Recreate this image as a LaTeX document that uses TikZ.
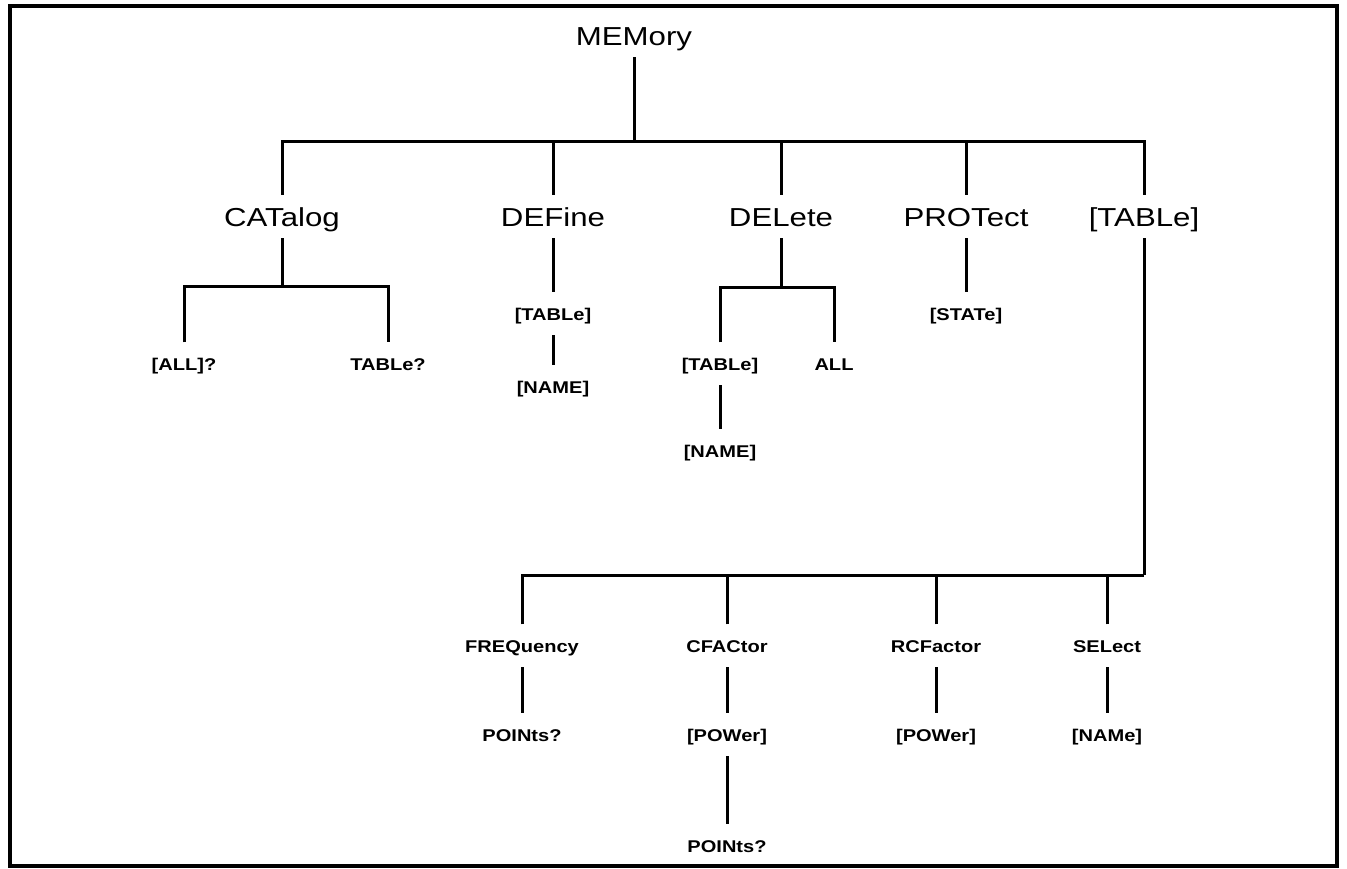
\documentclass[tikz,border=0pt]{standalone}
\usepackage{fontspec}
\newfontfamily\bigf{Liberation Sans}[FakeStretch=1.2]
\newfontfamily\smf{Liberation Sans}[FakeStretch=1.18]
\begin{document}
\begin{tikzpicture}[x=1pt,y=-1pt,
  big/.style={font=\bigf\fontsize{26}{30}\selectfont, text height=19pt, text depth=0pt, inner xsep=2pt, inner ysep=12pt, anchor=base},
  sm/.style={font=\smf\bfseries\fontsize{17}{20}\selectfont, text height=12.5pt, text depth=0pt, inner xsep=2pt, inner ysep=15pt, anchor=base},
  ln/.style={line width=3pt},
  frame/.style={line width=4pt}]
\useasboundingbox (0,0) rectangle (1347,868);
\draw[frame] (10,6) rectangle (1337,866);
% top level
\node[big] (mem) at (634,45) {MEMory};
\node[big] (cat) at (282,226) {CATalog};
\node[big] (def) at (553,226) {DEFine};
\node[big] (del) at (781,226) {DELete};
\node[big] (prot) at (966,226) {PROTect};
\node[big] (tab) at (1144,226) {[TABLe]};
\coordinate (j0) at (634,141);
\draw[ln] (mem.south) -- (j0);
\draw[ln] (cat.north) |- (j0) -| (tab.north);
\draw[ln] (def.north) -- (def.north |- j0);
\draw[ln] (del.north) -- (del.north |- j0);
\draw[ln] (prot.north) -- (prot.north |- j0);
% CATalog
\node[sm] (alla) at (184,370) {[ALL]?};
\node[sm] (tabq) at (388,370) {TABLe?};
\coordinate (j1) at (282,286);
\draw[ln] (cat.south) -- (j1);
\draw[ln] (alla.north) |- (j1) -| (tabq.north);
% DEFine
\node[sm] (dtab) at (553,320) {[TABLe]};
\node[sm] (dname) at (553,393) {[NAME]};
\draw[ln] (def.south) -- (dtab.north);
\draw[ln] (dtab.south) -- (dname.north);
% DELete
\node[sm] (ltab) at (720,370) {[TABLe]};
\node[sm] (lall) at (834,370) {ALL};
\node[sm] (lname) at (720,457) {[NAME]};
\coordinate (j2) at (781,287);
\draw[ln] (del.south) -- (j2);
\draw[ln] (ltab.north) |- (j2) -| (lall.north);
\draw[ln] (ltab.south) -- (lname.north);
% PROTect
\node[sm] (pst) at (966,320) {[STATe]};
\draw[ln] (prot.south) -- (pst.north);
% TABLe subtree
\node[sm] (fr) at (522,652) {FREQuency};
\node[sm] (cf) at (727,652) {CFACtor};
\node[sm] (rc) at (936,652) {RCFactor};
\node[sm] (se) at (1107,652) {SELect};
\coordinate (j3) at (1144,575);
\draw[ln] (tab.south) -- (j3);
\draw[ln] (fr.north) |- (j3);
\draw[ln] (cf.north) -- (cf.north |- j3);
\draw[ln] (rc.north) -- (rc.north |- j3);
\draw[ln] (se.north) -- (se.north |- j3);
\node[sm] (frp) at (522,741) {POINts?};
\node[sm] (cfp) at (727,741) {[POWer]};
\node[sm] (rcp) at (936,741) {[POWer]};
\node[sm] (sen) at (1107,741) {[NAMe]};
\node[sm] (cfq) at (727,852) {POINts?};
\draw[ln] (fr.south) -- (frp.north);
\draw[ln] (cf.south) -- (cfp.north);
\draw[ln] (rc.south) -- (rcp.north);
\draw[ln] (se.south) -- (sen.north);
\draw[ln] (cfp.south) -- (cfq.north);
\end{tikzpicture}
\end{document}
